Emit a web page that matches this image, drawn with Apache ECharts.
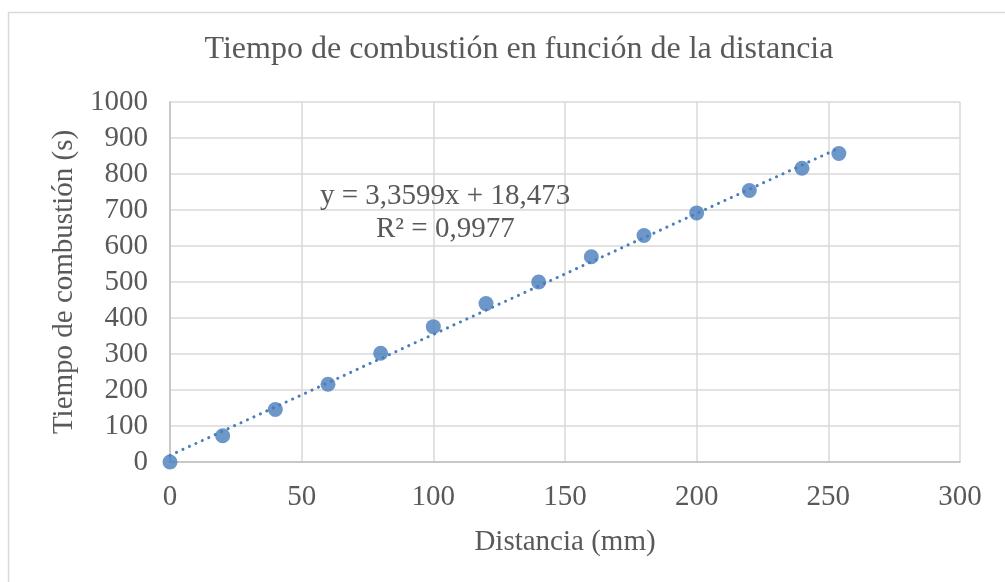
<!DOCTYPE html>
<html><head><meta charset="utf-8">
<script src="https://cdn.jsdelivr.net/npm/echarts@6/dist/echarts.min.js"></script>
<style>html,body{margin:0;padding:0;background:#fff}#c{width:1005px;height:582px}</style>
</head><body><div id="c"></div>
<script>
const titleText = 'Tiempo de combustión en función de la distancia';
const xName = 'Distancia (mm)';
const yName = 'Tiempo de combustión (s)';
const distancia = [0, 20, 40, 60, 80, 100, 120, 140, 160, 180, 200, 220, 240, 254];
const tiempo = [0, 73, 146, 216, 302, 376, 440, 500, 570, 629, 692, 754, 816, 857];
const slope = 3.3599;
const intercept = 18.473;
const eqLine1 = 'y = 3,3599x + 18,473';
const eqLine2 = 'R² = 0,9977';

const font = 'Liberation Serif, Times New Roman, serif';
const txt = '#595959';
const pts = distancia.map((x, i) => [x, tiempo[i]]);
const xEnd = distancia[distancia.length - 1];
const trend = [[0, intercept], [xEnd, slope * xEnd + intercept]];

const chart = echarts.init(document.getElementById('c'), null, {renderer: 'canvas'});
chart.setOption({
  backgroundColor: '#fff',
  animation: false,
  title: {text: titleText, left: 514, top: 29, textAlign: 'center',
    textStyle: {fontFamily: font, fontSize: 32, fontWeight: 'normal', color: txt}},
  grid: {left: 170, right: 45, top: 102, bottom: 120},
  xAxis: {type: 'value', min: 0, max: 300, interval: 50,
    name: xName, nameLocation: 'middle', nameGap: 66,
    nameTextStyle: {fontFamily: font, fontSize: 29, color: txt},
    axisLine: {show: true, lineStyle: {color: '#bfbfbf', width: 1.5}},
    axisTick: {show: false},
    axisLabel: {fontFamily: font, fontSize: 29, color: txt, margin: 21,
      formatter: v => String(v)},
    splitLine: {show: true, lineStyle: {color: '#d9d9d9', width: 1.5}}},
  yAxis: {type: 'value', min: 0, max: 1000, interval: 100,
    name: yName, nameLocation: 'middle', nameGap: 90,
    nameTextStyle: {fontFamily: font, fontSize: 29, color: txt},
    axisLine: {show: true, lineStyle: {color: '#bfbfbf', width: 1.5}},
    axisTick: {show: false},
    axisLabel: {fontFamily: font, fontSize: 29, color: txt, margin: 22,
      formatter: v => String(v)},
    splitLine: {show: true, lineStyle: {color: '#d9d9d9', width: 1.5}}},
  graphic: [
    {type: 'rect', left: 6, top: 10, silent: true, z: -10,
      shape: {width: 1100, height: 700}, style: {fill: 'none', stroke: '#d9d9d9', lineWidth: 1.5}},
    {type: 'text', left: 320, top: 182, z: 100,
      style: {text: eqLine1, font: '29px ' + font, fill: txt}},
    {type: 'text', left: 376, top: 215, z: 100,
      style: {text: eqLine2, font: '29px ' + font, fill: txt}}
  ],
  series: [
    {type: 'line', data: trend, symbol: 'none', z: 3,
      lineStyle: {color: '#4a7dbb', width: 3, type: [0.1, 7], cap: 'round'}},
    {type: 'scatter', data: pts, symbol: 'circle', symbolSize: 15, z: 4,
      itemStyle: {color: '#4a7dbb'}}
  ]
});
</script></body></html>
